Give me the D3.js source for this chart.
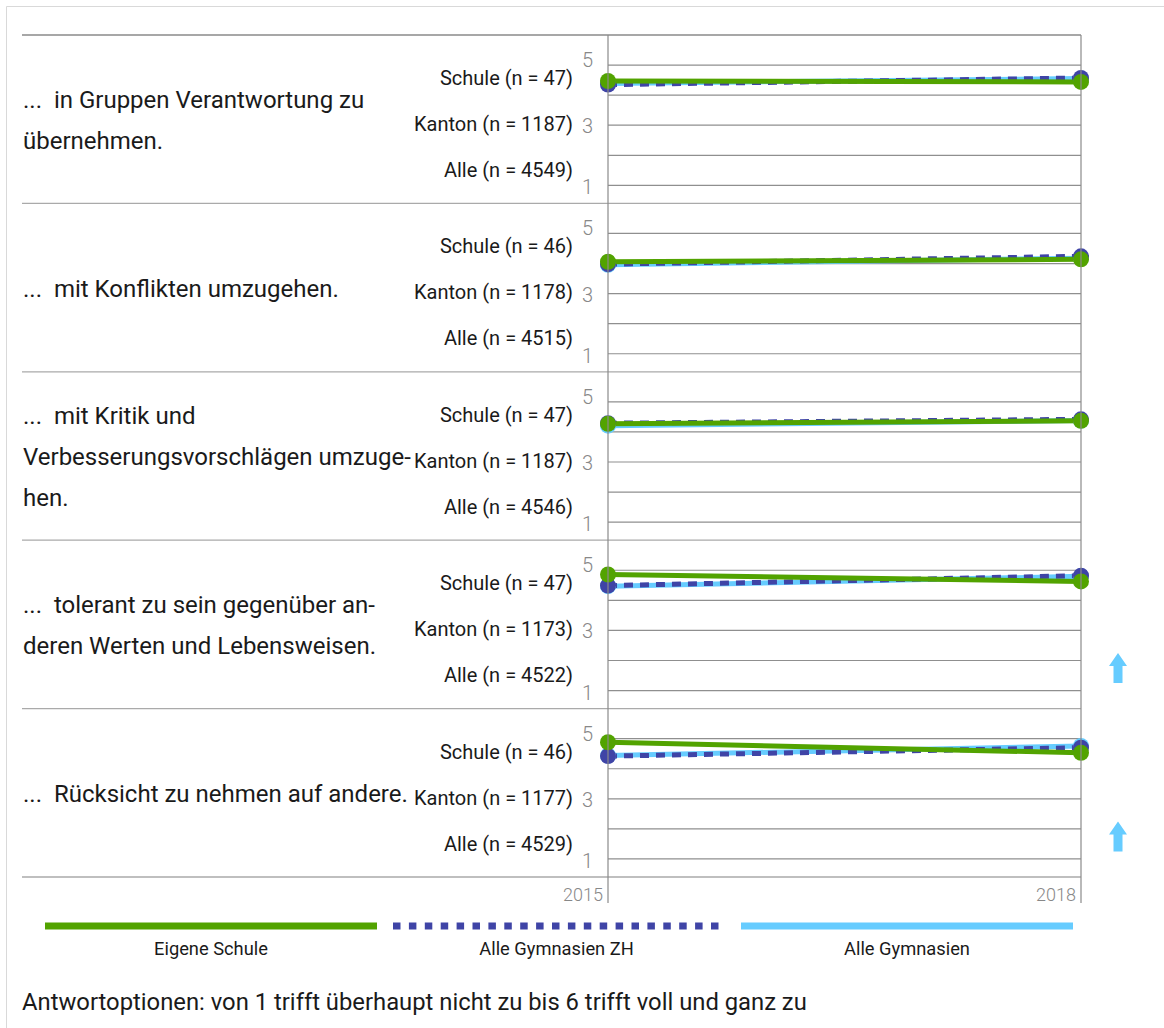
<!DOCTYPE html>
<html>
<head>
<meta charset="utf-8">
<script src="https://cdn.jsdelivr.net/npm/d3@7"></script>
<style>
  html, body { margin: 0; padding: 0; background: #fff; }
  svg text { font-family: Roboto, "DejaVu Sans", sans-serif; white-space: pre; }
</style>
</head>
<body>
<svg id="chart" width="1164" height="1028"></svg>
<script>
// ---------- data ----------
const questions = [
  ["...  in Gruppen Verantwortung zu", "übernehmen."],
  ["...  mit Konflikten umzugehen."],
  ["...  mit Kritik und", "Verbesserungsvorschlägen umzuge-", "hen."],
  ["...  tolerant zu sein gegenüber an-", "deren Werten und Lebensweisen."],
  ["...  Rücksicht zu nehmen auf andere."]
];
const nSchule = [47, 46, 47, 47, 46];
const nKanton = [1187, 1178, 1187, 1173, 1177];
const nAlle   = [4549, 4515, 4546, 4522, 4529];

const years = [2015, 2018];
const schule2015 = [4.47, 4.06, 4.27, 4.86, 4.88];
const schule2018 = [4.44, 4.14, 4.37, 4.63, 4.53];
const kanton2015 = [4.35, 3.98, 4.29, 4.49, 4.42];
const kanton2018 = [4.57, 4.24, 4.42, 4.82, 4.70];
const alle2015   = [4.39, 3.96, 4.21, 4.47, 4.44];
const alle2018   = [4.55, 4.18, 4.38, 4.80, 4.76];
const upArrow    = [false, false, false, true, true];

const yTicks = [1, 3, 5];
const gridValues = [1, 2, 3, 4, 5];
const legendLabels = ["Eigene Schule", "Alle Gymnasien ZH", "Alle Gymnasien"];
const footnote = "Antwortoptionen: von 1 trifft überhaupt nicht zu bis 6 trifft voll und ganz zu";

// ---------- layout ----------
const svg = d3.select("#chart");
const top0 = 35, panelH = 168.4;
const leftX = 22, plotL = 608, plotR = 1081;
const colors = { schule: "#52a300", kanton: "#3f44a6", alle: "#66ccff" };

// card border
svg.append("path").attr("d", "M6.5,1028 V6.5 H1164")
  .attr("fill", "none").attr("stroke", "#d9d9d9").attr("stroke-width", 1);

const x = d3.scaleLinear().domain(d3.extent(years)).range([plotL, plotR]);

const series = [
  { key: "alle",   v: [alle2015, alle2018],     color: colors.alle,   dash: null },
  { key: "kanton", v: [kanton2015, kanton2018], color: colors.kanton, dash: "9,7" },
  { key: "schule", v: [schule2015, schule2018], color: colors.schule, dash: null }
];

const nPanels = questions.length;

// separators
for (let i = 0; i <= nPanels; i++) {
  const yy = top0 + i * panelH;
  svg.append("line").attr("x1", leftX).attr("x2", plotR)
    .attr("y1", yy).attr("y2", yy)
    .attr("stroke", i === 0 ? "#8a8a8a" : "#aaaaaa").attr("stroke-width", 1.3);
}

questions.forEach((q, i) => {
  const pTop = top0 + i * panelH;
  const y = d3.scaleLinear().domain([0.4, 6]).range([pTop + panelH, pTop]);
  const g = svg.append("g");

  // grid lines
  g.selectAll("line.grid").data(gridValues).join("line")
    .attr("x1", plotL).attr("x2", plotR)
    .attr("y1", d => y(d)).attr("y2", d => y(d))
    .attr("stroke", "#8f8f8f").attr("stroke-width", 1.2);

  // tick labels
  const tickOffset = { 5: -5, 3: 1, 1: 2 };
  g.selectAll("text.tick").data(yTicks).join("text")
    .attr("x", 593).attr("y", d => y(d) + tickOffset[d])
    .attr("text-anchor", "end").attr("dominant-baseline", "central")
    .attr("fill", "#888888").attr("font-size", 20).attr("font-weight", 300)
    .text(d => d);

  // group labels
  const groups = [
    "Schule (n = " + nSchule[i] + ")",
    "Kanton (n = " + nKanton[i] + ")",
    "Alle (n = " + nAlle[i] + ")"
  ];
  g.selectAll("text.grp").data(groups).join("text")
    .attr("x", 573).attr("y", (d, k) => pTop + 43 + k * 46)
    .attr("text-anchor", "end").attr("dominant-baseline", "central")
    .attr("fill", "#1a1a1a").attr("font-size", 20)
    .text(d => d);

  // question text
  const lh = 41;
  const cy = pTop + panelH / 2;
  g.selectAll("text.q").data(q).join("text")
    .attr("x", leftX + 1)
    .attr("y", (d, k) => cy + (k - (q.length - 1) / 2) * lh + 1)
    .attr("dominant-baseline", "central")
    .attr("fill", "#1a1a1a").attr("font-size", 24)
    .text(d => d);

  // lines
  const line = d3.line().x(d => x(d[0])).y(d => y(d[1]));
  series.forEach(s => {
    const pts = years.map((yr, k) => [yr, s.v[k][i]]);
    g.append("path").datum(pts).attr("d", line)
      .attr("fill", "none").attr("stroke", s.color).attr("stroke-width", 5)
      .attr("stroke-dasharray", s.dash);
  });
  series.forEach(s => {
    const pts = years.map((yr, k) => [yr, s.v[k][i]]);
    g.selectAll(null).data(pts).join("circle")
      .attr("cx", d => x(d[0])).attr("cy", d => y(d[1])).attr("r", 8)
      .attr("fill", s.color);
  });

  // arrow
  if (upArrow[i]) {
    const ax = 1118, ay = y(1.75);
    g.append("path")
      .attr("d", `M${ax},${ay - 15} L${ax + 9},${ay - 2} L${ax + 4.5},${ay - 2} L${ax + 4.5},${ay + 15} L${ax - 4.5},${ay + 15} L${ax - 4.5},${ay - 2} L${ax - 9},${ay - 2} Z`)
      .attr("fill", colors.alle);
  }
});

// vertical plot borders
const bottom = top0 + nPanels * panelH;
[plotL, plotR].forEach(xx => {
  svg.append("line").attr("x1", xx).attr("x2", xx)
    .attr("y1", top0).attr("y2", bottom + 26)
    .attr("stroke", "#8a8a8a").attr("stroke-width", 1.2);
});

// x axis labels
svg.selectAll("text.year").data(years).join("text")
  .attr("x", d => x(d) - 5).attr("y", bottom + 17)
  .attr("text-anchor", "end").attr("dominant-baseline", "central")
  .attr("fill", "#888888").attr("font-size", 18).attr("font-weight", 300)
  .text(d => d);

// legend
const legendItems = [
  { x1: 45, x2: 377, color: colors.schule, dash: null },
  { x1: 393, x2: 720, color: colors.kanton, dash: "7.5,8.4" },
  { x1: 741, x2: 1073, color: colors.alle, dash: null }
];
legendItems.forEach((it, k) => {
  svg.append("line").attr("x1", it.x1).attr("x2", it.x2)
    .attr("y1", 926).attr("y2", 926)
    .attr("stroke", it.color).attr("stroke-width", 7)
    .attr("stroke-dasharray", it.dash);
  svg.append("text").attr("x", (it.x1 + it.x2) / 2).attr("y", 948)
    .attr("text-anchor", "middle").attr("dominant-baseline", "central")
    .attr("fill", "#1a1a1a").attr("font-size", 18.3)
    .text(legendLabels[k]);
});

// footnote
svg.append("text").attr("x", leftX).attr("y", 1002)
  .attr("dominant-baseline", "central")
  .attr("fill", "#1a1a1a").attr("font-size", 23.8)
  .text(footnote);
</script>
</body>
</html>
